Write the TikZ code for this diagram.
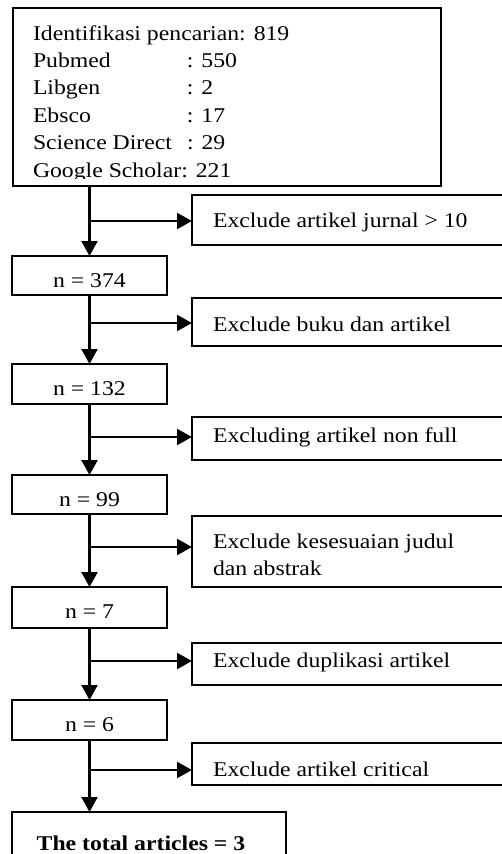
\documentclass[tikz,border=0pt]{standalone}
\usepackage{fontspec}
\setmainfont{Liberation Serif}[FakeStretch=1.13]
\usetikzlibrary{arrows.meta}
\begin{document}
\begin{tikzpicture}[x=1pt,y=-1pt,
  line width=2.2pt,
  boxnode/.style={draw=black, rectangle, inner sep=0pt, outer sep=0pt, anchor=north west},
  txt/.style={inner sep=0pt, outer sep=0pt, anchor=base west, font=\fontsize{21}{25}\selectfont},
  ctxt/.style={inner sep=0pt, outer sep=0pt, anchor=base, font=\fontsize{21}{25}\selectfont},
  arr/.style={-{Triangle[length=15pt,width=16pt]}}
]
\useasboundingbox (0,0) rectangle (501,854);

% top box
\node[boxnode, minimum width=428pt, minimum height=178pt] (top) at (13,8) {};
\begin{scope}
  \clip (14,9) rectangle (440,178.5);
  \node[txt] (l1) at (33,40) {Identifikasi pencarian: 819};
  \node[txt] (l2) at (33,67.4) {\makebox[154pt][l]{Pubmed}: 550};
  \node[txt] (l3) at (33,94.8) {\makebox[154pt][l]{Libgen}: 2};
  \node[txt] (l4) at (33,122.2) {\makebox[154pt][l]{Ebsco}: 17};
  \node[txt] (l5) at (33,149.6) {\makebox[154pt][l]{Science Direct}: 29};
  \node[txt] (l6) at (33,177) {Google Scholar: 221};
\end{scope}

% count boxes
\node[boxnode, minimum width=155pt, minimum height=39pt] (n1) at (12,256) {};
\node[ctxt] (tn1) at (89.5,287) {n = 374};
\node[boxnode, minimum width=155pt, minimum height=40pt] (n2) at (12,364) {};
\node[ctxt] (tn2) at (89.5,395) {n = 132};
\node[boxnode, minimum width=155pt, minimum height=39pt] (n3) at (12,475) {};
\node[ctxt] (tn3) at (89.5,506) {n = 99};
\node[boxnode, minimum width=155pt, minimum height=41pt] (n4) at (12,587) {};
\node[ctxt] (tn4) at (89.5,618) {n = 7};
\node[boxnode, minimum width=155pt, minimum height=40pt] (n5) at (12,700) {};
\node[ctxt] (tn5) at (89.5,731) {n = 6};
\node[boxnode, minimum width=274pt, minimum height=60pt] (fin) at (12,812) {};
\node[ctxt] (tfin) at (141,850.5) {\bfseries The total articles = 3};

% exclusion boxes
\node[boxnode, minimum width=330pt, minimum height=50pt] (e1) at (192,195) {};
\node[txt] (te1) at (213,227) {Exclude artikel jurnal > 10};
\node[boxnode, minimum width=330pt, minimum height=48pt] (e2) at (192,298) {};
\node[txt] (te2) at (213,331) {Exclude buku dan artikel};
\node[boxnode, minimum width=330pt, minimum height=43pt] (e3) at (192,417) {};
\begin{scope}
  \clip (193,418) rectangle (500,447);
  \node[txt] (te3) at (213,442) {Excluding artikel non full};
\end{scope}
\node[boxnode, minimum width=330pt, minimum height=71pt] (e4) at (192,516) {};
\node[txt] (te4a) at (213,548) {Exclude kesesuaian judul};
\node[txt] (te4b) at (213,575) {dan abstrak};
\node[boxnode, minimum width=330pt, minimum height=42pt] (e5) at (192,643) {};
\begin{scope}
  \clip (193,644) rectangle (500,673);
  \node[txt] (te5) at (213,667) {Exclude duplikasi artikel};
\end{scope}
\node[boxnode, minimum width=330pt, minimum height=42pt] (e6) at (192,743) {};
\node[txt] (te6) at (213,776) {Exclude artikel critical};

% trunk
\draw[arr] (top.south -| n1.north) -- (n1.north);
\draw[arr] (n1.south) -- (n2.north);
\draw[arr] (n2.south) -- (n3.north);
\draw[arr] (n3.south) -- (n4.north);
\draw[arr] (n4.south) -- (n5.north);
\draw[arr] (n5.south) -- (n5.south |- fin.north);

% branches
\coordinate (b1) at (89.5,221);
\coordinate (b2) at (89.5,323);
\coordinate (b3) at (89.5,437);
\coordinate (b4) at (89.5,547);
\coordinate (b5) at (89.5,661);
\coordinate (b6) at (89.5,770);
\draw[arr] (b1) -- (b1 -| e1.west);
\draw[arr] (b2) -- (b2 -| e2.west);
\draw[arr] (b3) -- (b3 -| e3.west);
\draw[arr] (b4) -- (b4 -| e4.west);
\draw[arr] (b5) -- (b5 -| e5.west);
\draw[arr] (b6) -- (b6 -| e6.west);
\end{tikzpicture}
\end{document}
